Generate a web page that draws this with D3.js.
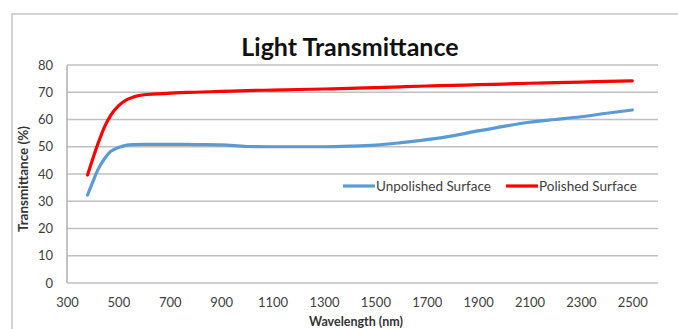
<!DOCTYPE html>
<html>
<head>
<meta charset="utf-8">
<script src="https://cdn.jsdelivr.net/npm/d3@7"></script>
<style>
  body { margin: 0; background: #fff; }
  svg text { font-family: Lato, "Liberation Sans", sans-serif; }
</style>
</head>
<body>
<div id="main"></div>
<script>
var wavelength = [380, 400, 420, 447, 470, 500, 533, 560, 593, 650, 720, 800, 900, 1000, 1100, 1200, 1300, 1400, 1500, 1600, 1700, 1800, 1900, 2000, 2100, 2200, 2300, 2400, 2500];
var unpolished = [32.3, 37, 41.5, 45.8, 48.3, 49.7, 50.6, 50.8, 50.9, 50.9, 50.9, 50.8, 50.7, 50.1, 50, 50, 50, 50.2, 50.6, 51.5, 52.6, 54, 55.8, 57.5, 59, 60, 61, 62.3, 63.5];
var polished = [39.6, 45.5, 51, 57.5, 61.5, 65, 67.3, 68.3, 69, 69.4, 69.8, 70, 70.3, 70.6, 70.8, 71, 71.2, 71.4, 71.7, 72, 72.3, 72.5, 72.8, 73, 73.3, 73.5, 73.7, 74, 74.2];
var xTicks = [300, 500, 700, 900, 1100, 1300, 1500, 1700, 1900, 2100, 2300, 2500];
var yTicks = [0, 10, 20, 30, 40, 50, 60, 70, 80];
var seriesNames = ["Unpolished Surface", "Polished Surface"];
var seriesColors = ["#5b9bd5", "#ff0000"];

var width = 678, height = 329;

var svg = d3.select("#main").append("svg")
  .attr("width", width)
  .attr("height", height);

// chart border (only top and left visible in the crop)
svg.append("path")
  .attr("d", "M12," + height + "V14H" + width)
  .attr("fill", "none")
  .attr("stroke", "#c4c4c4")
  .attr("stroke-width", 1.5);

var x = d3.scaleLinear().domain([300, 2600]).range([67, 658]);
var y = d3.scaleLinear().domain([0, 80]).range([283, 65]);

// gridlines
svg.append("g")
  .selectAll("line")
  .data(yTicks)
  .enter().append("line")
  .attr("x1", x(300))
  .attr("x2", x(2600))
  .attr("y1", function(d) { return y(d); })
  .attr("y2", function(d) { return y(d); })
  .attr("stroke", "#c0c0c0")
  .attr("stroke-width", 1.5);

// left axis line
svg.append("line")
  .attr("x1", x(300)).attr("x2", x(300))
  .attr("y1", y(0)).attr("y2", y(80))
  .attr("stroke", "#b0b0b0")
  .attr("stroke-width", 1.5);

// y axis
var yAxis = svg.append("g")
  .attr("transform", "translate(" + x(300) + ",0)")
  .call(d3.axisLeft(y).tickValues(yTicks).tickSize(0).tickPadding(14));
yAxis.select(".domain").remove();
yAxis.selectAll("text")
  .attr("font-size", 13)
  .attr("fill", "#404040")
  .style("font-family", "Lato, sans-serif");

// x axis
var xAxis = svg.append("g")
  .attr("transform", "translate(0," + y(0) + ")")
  .call(d3.axisBottom(x).tickValues(xTicks).tickFormat(d3.format("d")).tickSize(0).tickPadding(15));
xAxis.select(".domain").remove();
xAxis.selectAll("text")
  .attr("font-size", 13)
  .attr("fill", "#404040")
  .style("font-family", "Lato, sans-serif");

// lines
var line = d3.line()
  .x(function(d) { return x(d[0]); })
  .y(function(d) { return y(d[1]); })
  .curve(d3.curveMonotoneX);

var series = [
  wavelength.map(function(w, i) { return [w, unpolished[i]]; }),
  wavelength.map(function(w, i) { return [w, polished[i]]; })
];

svg.append("g")
  .selectAll("path")
  .data(series)
  .enter().append("path")
  .attr("d", line)
  .attr("fill", "none")
  .attr("stroke", function(d, i) { return seriesColors[i]; })
  .attr("stroke-width", 3.2)
  .attr("stroke-linecap", "round");

// title
svg.append("text")
  .attr("x", 350)
  .attr("y", 56)
  .attr("text-anchor", "middle")
  .attr("font-size", 25)
  .attr("font-weight", "bold")
  .attr("fill", "#111")
  .text("Light Transmittance");

// axis titles
svg.append("text")
  .attr("x", 356)
  .attr("y", 326)
  .attr("text-anchor", "middle")
  .attr("font-size", 12.5)
  .attr("font-weight", "bold")
  .attr("fill", "#333")
  .text("Wavelength (nm)");

svg.append("text")
  .attr("transform", "translate(28,179) rotate(-90)")
  .attr("text-anchor", "middle")
  .attr("font-size", 13.5)
  .attr("font-weight", "bold")
  .attr("fill", "#333")
  .text("Transmittance (%)");

// legend
var legendX = [343, 506];
var legend = svg.append("g")
  .selectAll("g")
  .data(seriesNames)
  .enter().append("g")
  .attr("transform", function(d, i) { return "translate(" + legendX[i] + ",186)"; });

legend.append("line")
  .attr("x1", 0).attr("x2", 32)
  .attr("y1", 0).attr("y2", 0)
  .attr("stroke", function(d, i) { return seriesColors[i]; })
  .attr("stroke-width", 3.2);

legend.append("text")
  .attr("x", 33)
  .attr("y", 4.5)
  .attr("font-size", 13.5)
  .attr("fill", "#404040")
  .text(function(d) { return d; });
</script>
</body>
</html>
